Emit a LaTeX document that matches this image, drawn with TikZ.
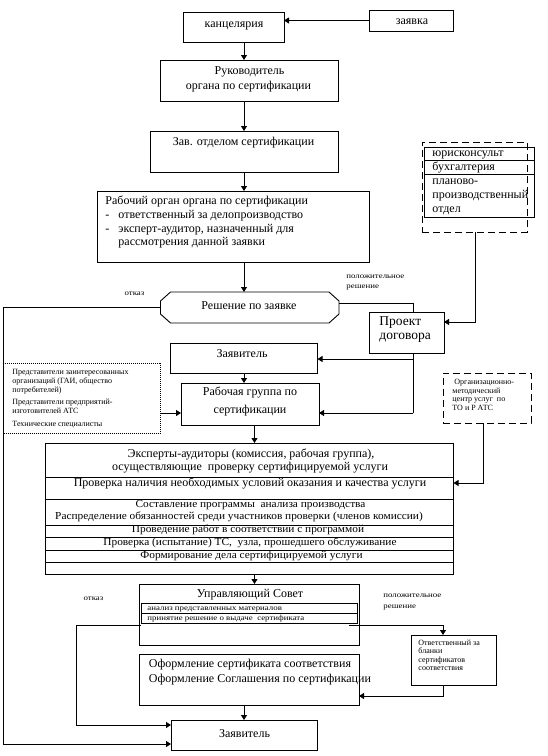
\documentclass[tikz,border=0pt]{standalone}
\usepackage{fontspec}
\setmainfont{Liberation Serif}
\newfontfamily\wfont[FakeStretch=1.18]{Liberation Serif}
\newfontfamily\mfont[FakeStretch=1.06]{Liberation Serif}
\usetikzlibrary{arrows.meta,calc}
\newcommand{\mybox}[6]{\node[#6, minimum width={(#4-#2)*1pt}, minimum height={(#5-#3)*1pt}] (#1) at (#2,#3) {};}
\begin{document}
\begin{tikzpicture}[x=1pt,y=-1pt,line width=0.9pt,
  bxs/.style={draw, inner sep=0pt, outer sep=0pt, anchor=north west},
  nob/.style={inner sep=0pt, outer sep=0pt, anchor=north west},
  dsh/.style={bxs, dash pattern=on 7pt off 4pt},
  dtd/.style={bxs, line width=0.7pt, dash pattern=on 0.8pt off 1.2pt},
  arr/.style={-{Triangle[length=5pt,width=6pt]}},
  f12/.style={font=\fontsize{12}{14}\selectfont, inner sep=0pt},
  f13/.style={font=\fontsize{13.5}{16}\selectfont, inner sep=0pt},
  f10/.style={font=\mfont\fontsize{10.7}{12}\selectfont, inner sep=0pt},
  f8/.style={font=\fontsize{8}{9}\selectfont, inner sep=0pt},
  f7/.style={font=\wfont\fontsize{7.5}{9}\selectfont, inner sep=0pt},
  lft/.style={anchor=mid west},
  ctr/.style={anchor=mid}]
\useasboundingbox[fill=white] (0,0) rectangle (547,756);
\coordinate (ax) at (244,0);
\coordinate (bx) at (254.5,0);
% boxes
\mybox{kanc}{183}{12}{284}{42}{bxs}
\mybox{zay}{369}{10}{453.5}{31}{bxs}
\mybox{ruk}{160.5}{60}{338}{101}{bxs}
\mybox{zav}{150}{131}{338}{172}{bxs}
\mybox{rab}{97}{191}{369}{262}{bxs}
\mybox{yur}{422}{142}{527}{232}{dsh}
\mybox{yurin}{424}{147}{534}{217}{bxs}
\draw (424,160) -- (534,160);
\draw (424,174) -- (534,174);
\mybox{dec}{160.5}{292}{339}{323}{nob}
\draw (170.5,292) -- (329,292) -- (339,301) -- (339,314) -- (329,323) -- (170.5,323) -- (160.5,314) -- (160.5,301) -- cycle;
\mybox{proj}{369}{312}{444}{353}{bxs}
\mybox{zay1}{170}{343}{317.5}{373}{bxs}
\mybox{rg}{181}{383}{319}{425}{bxs}
\mybox{dot}{3.5}{363}{160.5}{433}{dtd}
\mybox{org}{443}{373}{531}{423}{dsh}
\mybox{exp}{45}{443}{453.5}{574}{bxs}
\foreach \yy in {477,499,525,537,550,562} \draw (45,\yy) -- (453.5,\yy);
\mybox{upr}{139.5}{584}{359}{645}{bxs}
\mybox{uprin}{141}{603}{357.5}{623}{bxs}
\draw (141,613) -- (357.5,613);
\mybox{otv}{411.5}{635}{496.5}{685}{bxs}
\mybox{oform}{139.5}{654}{359}{705}{bxs}
\mybox{zay2}{171}{720}{317.5}{750}{bxs}
% texts
\node[f12,ctr] (t1) at (234,25) {канцелярия};
\node[f12,ctr] (t2) at (412,22) {заявка};
\node[f12,ctr] (t3) at (249.5,72.5) {Руководитель};
\node[f12,ctr] (t4) at (248.5,87.5) {органа по сертификации};
\node[f12,ctr] (t5) at (243.5,143.5) {Зав. отделом сертификации};
\node[f12,lft] (t6) at (105,202) {Рабочий орган органа по сертификации};
\node[f12,lft] (t7a) at (105,216) {-};
\node[f12,lft] (t7) at (118,216) {ответственный за делопроизводство};
\node[f12,lft] (t8a) at (105,230) {-};
\node[f12,lft] (t8) at (118,230) {эксперт-аудитор, назначенный для};
\node[f12,lft] (t9) at (118,243.5) {рассмотрения данной заявки};
\node[f12,lft] (y1) at (432,154.5) {юрисконсульт};
\node[f12,lft] (y2) at (432,168) {бухгалтерия};
\node[f12,lft] (y3) at (432,182) {планово-};
\node[f12,lft] (y4) at (432,196) {производственный};
\node[f12,lft] (y5) at (432,210) {отдел};
\node[f7,lft] (p1) at (346,276) {положительное};
\node[f7,lft] (p2) at (346,286) {решение};
\node[f7,ctr] (o1) at (134.5,293) {отказ};
\node[f12,ctr] (t10) at (249,307) {Решение по заявке};
\node[f13,lft] (t11) at (379,323.5) {Проект};
\node[f13,lft] (t12) at (379,337.5) {договора};
\node[f12,ctr] (t13) at (242,355.5) {Заявитель};
\node[f12,ctr] (t14) at (250,393.5) {Рабочая группа по};
\node[f12,ctr] (t15) at (250,411.5) {сертификации};
\node[f8,lft] (d1) at (12,372) {Представители заинтересованных};
\node[f8,lft] (d2) at (12,381) {организаций (ГАИ, общество};
\node[f8,lft] (d3) at (12,390) {потребителей)};
\node[f8,lft] (d4) at (12,402) {Представители предприятий-};
\node[f8,lft] (d5) at (12,411) {изготовителей АТС};
\node[f8,lft] (d6) at (12,424.5) {Технические специалисты};
\node[f8,lft] (g1) at (454,382) {Организационно-};
\node[f8,lft] (g2) at (452,391) {методический};
\node[f8,lft] (g3) at (452,399.5) {центр услуг\ \ по};
\node[f8,lft] (g4) at (452,408) {ТО и Р АТС};
\node[f12,ctr] (e1) at (251,455.5) {Эксперты-аудиторы (комиссия, рабочая группа),};
\node[f12,ctr] (e2) at (250,468.5) {осуществляющие\ \ проверку сертифицируемой услуги};
\node[f12,ctr] (e3) at (250,484.5) {Проверка наличия необходимых условий оказания и качества услуги};
\node[f10,ctr] (e4) at (250.5,505) {Составление программы\ \ анализа производства};
\node[f10,ctr] (e5) at (239,517.5) {Распределение обязанностей среди участников проверки (членов комиссии)};
\node[f10,ctr] (e6) at (248,530.5) {Проведение работ в соответствии с программой};
\node[f10,ctr] (e7) at (250,543) {Проверка (испытание) ТС,\ \ узла, прошедшего обслуживание};
\node[f10,ctr] (e8) at (251.5,556) {Формирование дела сертифицируемой услуги};
\node[f12,ctr] (u1) at (250,595.5) {Управляющий Совет};
\node[f7,lft] (u2) at (147,608) {анализ представленных материалов};
\node[f7,lft] (u3) at (147,618) {принятие решение о выдаче\ \ сертификата};
\node[f7,ctr] (o2) at (93.5,598.5) {отказ};
\node[f7,lft] (p3) at (383,595) {положительное};
\node[f7,lft] (p4) at (383,606) {решение};
\node[f8,lft] (v1) at (418,643) {Ответственный за};
\node[f8,lft] (v2) at (418,651.5) {бланки};
\node[f8,lft] (v3) at (418,660) {сертификатов};
\node[f8,lft] (v4) at (418,668.5) {соответствия};
\node[f12,lft] (f1) at (148.5,665.5) {Оформление сертификата соответствия};
\node[f12,lft] (f2) at (148.5,680.5) {Оформление Соглашения по сертификации};
\node[f12,ctr] (t16) at (244.5,735.5) {Заявитель};
% connectors
\coordinate (cA) at (413,303);
\coordinate (cB) at (475,322);
\coordinate (cC) at (413,413);
\coordinate (cD) at (413,359);
\coordinate (cE) at (483,483);
\coordinate (cF) at (141,625);
\coordinate (cG) at (76,625);
\coordinate (cH) at (76,725);
\coordinate (cI) at (349,625);
\coordinate (cJ) at (443,625);
\coordinate (cK) at (443,696);
\coordinate (cL) at (3.5,307.5);
\coordinate (cM) at (3.5,744);
\draw[arr] (zay.west) -- (zay.west -| kanc.east);
\draw[arr] (kanc.south -| ax) -- (ruk.north -| ax);
\draw[arr] (ruk.south -| ax) -- (zav.north -| ax);
\draw[arr] (zav.south -| ax) -- (rab.north -| ax);
\draw[arr] (rab.south -| ax) -- (dec.north -| ax);
\draw[arr] (dec.west) -- (cL) -- (cM) -- (zay2.west |- cM);
\draw (dec.east |- cA) -- (cA) -- (proj.north -| cA);
\draw[arr] (yur.south -| cB) -- (cB) -- (proj.east |- cB);
\draw (proj.south -| cC) -- (cC);
\draw[arr] (cC) -- (rg.east |- cC);
\draw[arr] (cD) -- (zay1.east |- cD);
\draw[arr] (zay1.south -| ax) -- (rg.north -| ax);
\draw[arr] (dot.east |- cC) -- (rg.west |- cC);
\draw[arr] (rg.south -| bx) -- (exp.north -| bx);
\draw[arr] (org.south -| cE) -- (cE) -- (exp.east |- cE);
\draw[arr] (exp.south -| bx) -- (upr.north -| bx);
\draw[arr] (cF) -- (cG) -- (cH) -- (zay2.west |- cH);
\draw[arr] (cI) -- (cJ) -- (otv.north -| cJ);
\draw[arr] (otv.south -| cK) -- (cK) -- (oform.east |- cK);
\draw[arr] (oform.south -| ax) -- (zay2.north -| ax);
\end{tikzpicture}
\end{document}
